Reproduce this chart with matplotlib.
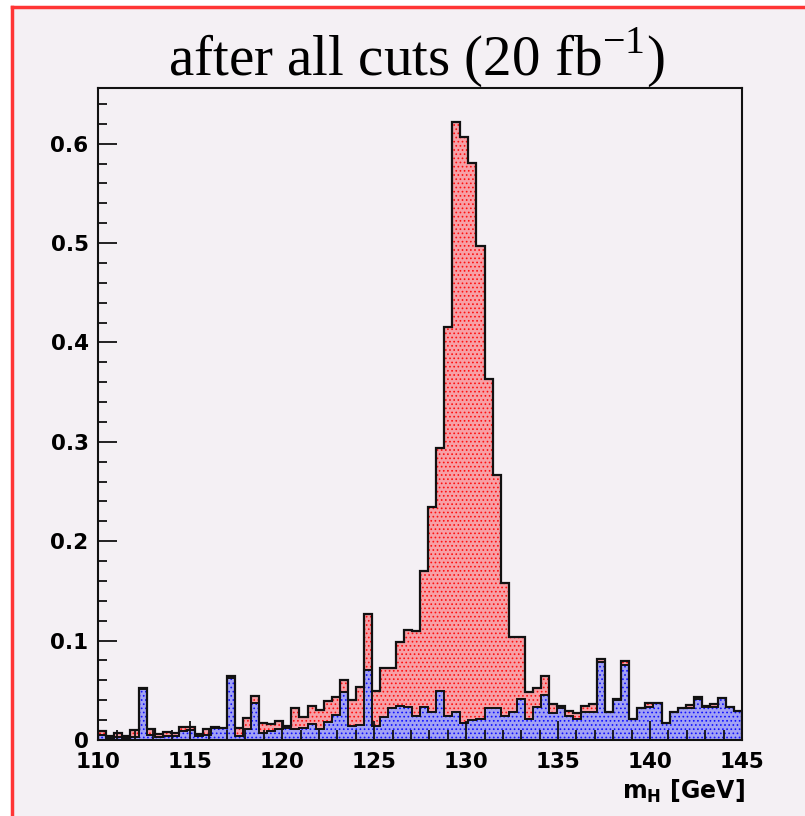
import matplotlib.pyplot as plt
import numpy as np
from matplotlib.patches import Rectangle
from matplotlib.lines import Line2D
from matplotlib.ticker import MultipleLocator, FuncFormatter

# ---------- DATA (80 bins, 110-145 GeV) ----------
lo, hi, nbins = 110.0, 145.0, 80

# stacked total (signal + background)
total = [0.009, 0.004, 0.007, 0.004, 0.010, 0.052, 0.011, 0.006, 0.008, 0.007,
         0.013, 0.013, 0.006, 0.011, 0.013, 0.012, 0.064, 0.012, 0.022, 0.044,
         0.017, 0.016, 0.019, 0.014, 0.032, 0.023, 0.034, 0.030, 0.039, 0.043,
         0.060, 0.040, 0.053, 0.127, 0.049, 0.072, 0.072, 0.099, 0.111, 0.110,
         0.170, 0.234, 0.294, 0.416, 0.622, 0.607, 0.581, 0.497, 0.363, 0.267,
         0.158, 0.104, 0.104, 0.048, 0.052, 0.064, 0.036, 0.034, 0.029, 0.027,
         0.034, 0.036, 0.081, 0.028, 0.041, 0.079, 0.021, 0.032, 0.037, 0.037,
         0.017, 0.028, 0.032, 0.035, 0.043, 0.034, 0.036, 0.042, 0.033, 0.029]

# background only
background = [0.005, 0.002, 0.003, 0.002, 0.003, 0.051, 0.005, 0.003, 0.004, 0.004,
              0.009, 0.010, 0.004, 0.005, 0.012, 0.012, 0.062, 0.004, 0.011, 0.037,
              0.007, 0.009, 0.011, 0.012, 0.011, 0.012, 0.016, 0.011, 0.018, 0.025,
              0.048, 0.014, 0.015, 0.070, 0.014, 0.023, 0.032, 0.034, 0.033, 0.024,
              0.033, 0.028, 0.049, 0.024, 0.028, 0.017, 0.020, 0.021, 0.032, 0.032,
              0.024, 0.028, 0.041, 0.021, 0.033, 0.045, 0.027, 0.032, 0.024, 0.021,
              0.028, 0.028, 0.078, 0.028, 0.040, 0.075, 0.021, 0.032, 0.033, 0.037,
              0.017, 0.028, 0.032, 0.032, 0.041, 0.033, 0.033, 0.042, 0.033, 0.029]

xticks = [110, 115, 120, 125, 130, 135, 140, 145]
yticks = [0.0, 0.1, 0.2, 0.3, 0.4, 0.5, 0.6]

edges = np.linspace(lo, hi, nbins + 1)

plt.rcParams['mathtext.fontset'] = 'custom'
plt.rcParams['mathtext.rm'] = 'Liberation Serif'
plt.rcParams['mathtext.bf'] = 'DejaVu Sans:bold'
plt.rcParams['hatch.linewidth'] = 0.7

bg = '#f4f0f4'
W, H = 805, 816

fig = plt.figure(figsize=(W / 100, H / 100), dpi=100, facecolor='white')

# lavender canvas with red frame (top/left visible)
fig.patches.append(Rectangle((12 / W, 0), 1, 1 - 7 / H, transform=fig.transFigure,
                             facecolor=bg, edgecolor='none', zorder=-5))
fig.lines.append(Line2D([12 / W, 12 / W], [0, 1 - 7 / H], transform=fig.transFigure,
                        color='#ff3535', lw=2.5, zorder=-4))
fig.lines.append(Line2D([12 / W, 1], [1 - 7 / H, 1 - 7 / H], transform=fig.transFigure,
                        color='#ff3535', lw=2.5, zorder=-4))

ax = fig.add_axes([98.3 / W, 1 - 740 / H, (742 - 98.3) / W, (740 - 88) / H])
ax.set_facecolor(bg)

# signal (stacked total) then background on top
ax.stairs(total, edges, fill=True, facecolor='#f7a0a6', edgecolor='#ff1010',
          hatch='....', lw=0)
ax.stairs(background, edges, fill=True, facecolor='#a2a2f4', edgecolor='#1010ff',
          hatch='....', lw=0)
ax.stairs(total, edges, color='#111111', lw=1.6)
ax.stairs(background, edges, color='#111111', lw=1.4)

ax.set_xlim(lo, hi)
ax.set_ylim(0, 0.656)

ax.set_xticks(xticks)
ax.set_yticks(yticks)
ax.xaxis.set_minor_locator(MultipleLocator(1))
ax.yaxis.set_minor_locator(MultipleLocator(0.02))
ax.yaxis.set_major_formatter(FuncFormatter(lambda v, p: '0' if v == 0 else f'{v:.1f}'))

ax.tick_params(which='both', direction='in', top=False, right=False, width=1.3,
               color='#111111')
ax.tick_params(axis='y', which='major', length=13.5, pad=7)
ax.tick_params(axis='y', which='minor', length=6.5)
ax.tick_params(axis='x', which='major', length=14, pad=9)
ax.tick_params(axis='x', which='minor', length=7)

for lab in ax.get_xticklabels() + ax.get_yticklabels():
    lab.set_fontfamily('DejaVu Sans')
    lab.set_fontweight('bold')
    lab.set_fontsize(15.5)

for sp in ax.spines.values():
    sp.set_linewidth(1.5)
    sp.set_color('#111111')

fig.text(416 / W, 1 - 57 / H, 'after all cuts (20 fb$^{-1}$)', ha='center', va='center',
         family='Liberation Serif', fontsize=41)
fig.text(745 / W, 1 - 791 / H, r'$\mathbf{m}_{\mathbf{H}}$ [GeV]', ha='right', va='center',
         family='DejaVu Sans', fontweight='bold', fontsize=17)

fig.savefig('out.png', dpi=100, facecolor='white')
